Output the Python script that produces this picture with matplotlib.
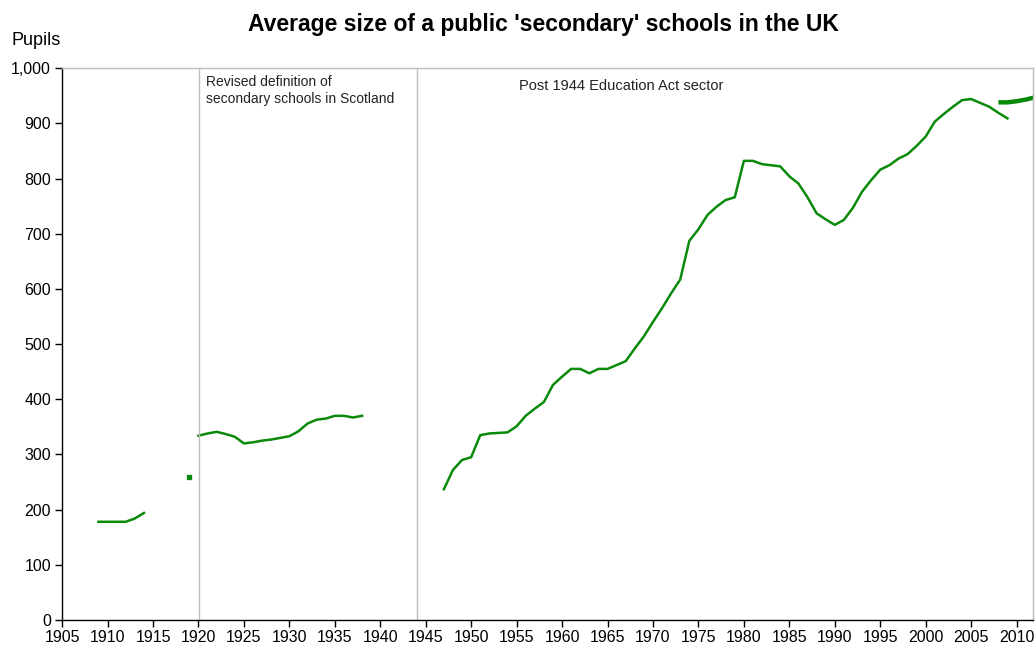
import numpy as np
import matplotlib
matplotlib.use('Agg')
import matplotlib.pyplot as plt
from matplotlib.ticker import FuncFormatter, MultipleLocator

plt.rcParams['font.family'] = ['Liberation Sans', 'DejaVu Sans']

# data
years_early = [1909, 1910, 1911, 1912, 1913, 1914]
pupils_early = [178, 178, 178, 178, 184, 194]

year_1919 = [1919]
pupils_1919 = [260]

years_inter = list(range(1920, 1939))
pupils_inter = [334, 338, 341, 337, 332, 320, 322, 325, 327, 330,
                333, 342, 356, 363, 365, 370, 370, 367, 370]

years_post = list(range(1947, 2010))
pupils_post = [237, 272, 290, 295, 335, 338, 339, 340, 351, 370,
               383, 395, 426, 441, 455, 455, 447, 455, 455, 462,
               469, 492, 514, 540, 565, 592, 617, 687, 708, 734,
               749, 761, 766, 832, 832, 826, 824, 822, 804, 791,
               766, 737, 726, 716, 725, 747, 776, 797, 816, 824,
               836, 844, 859, 876, 903, 917, 930, 942, 944, 937,
               930, 919, 909]

years_new = [2008, 2009, 2010, 2011, 2012]
pupils_new = [938, 938, 940, 943, 947]

green = '#0a8a0a'

fig = plt.figure(figsize=(10.35, 6.47), dpi=100)
ax = fig.add_axes([0.06, 0.0417, 0.938, 0.853])

ax.plot(years_early, pupils_early, color=green, lw=1.8)
ax.plot(year_1919, pupils_1919, color=green, marker='s', ms=2.5, ls='none')
ax.plot(years_inter, pupils_inter, color=green, lw=1.8)
ax.plot(years_post, pupils_post, color=green, lw=1.8)
ax.plot(years_new, pupils_new, color=green, lw=3.2, solid_capstyle='butt')

# separators for definition changes
ax.axvline(1920.1, color='#bdbdbd', lw=1)
ax.axvline(1944, color='#bdbdbd', lw=1)

ax.set_xlim(1905, 2011.8)
ax.set_ylim(0, 1000)
ax.xaxis.set_major_locator(MultipleLocator(5))
ax.yaxis.set_major_locator(MultipleLocator(100))
ax.yaxis.set_major_formatter(FuncFormatter(lambda v, p: f'{int(v):,}'))

for s in ['top', 'right']:
    ax.spines[s].set_color('#bdbdbd')
    ax.spines[s].set_linewidth(1)
for s in ['left', 'bottom']:
    ax.spines[s].set_color('black')
    ax.spines[s].set_linewidth(1)
ax.tick_params(direction='out', length=5, width=1, labelsize=11.5, colors='black')
ax.tick_params(axis='x', pad=2)
ax.tick_params(axis='y', pad=3)

ax.text(1920.8, 988, 'Revised definition of\nsecondary schools in Scotland',
        fontsize=10, va='top', ha='left', color='#222222', linespacing=1.3)
ax.text(1966.5, 967, 'Post 1944 Education Act sector',
        fontsize=10.5, va='center', ha='center', color='#222222')

fig.text(0.525, 0.962, "Average size of a public 'secondary' schools in the UK",
         fontsize=16.5, fontweight='bold', ha='center', va='center')
fig.text(0.011, 0.937, 'Pupils', fontsize=13, ha='left', va='center')

fig.savefig('out.png', dpi=100)
